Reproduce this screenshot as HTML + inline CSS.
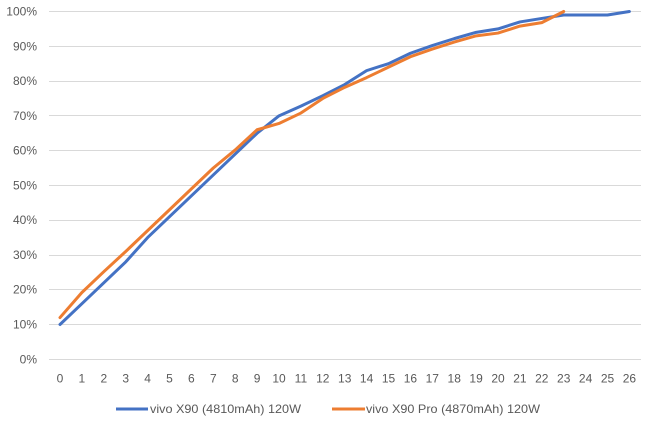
<!DOCTYPE html>
<html><head><meta charset="utf-8"><style>
html,body{margin:0;padding:0;background:#fff;}
svg{display:block;}
text{font-family:"Liberation Sans",sans-serif;font-size:12px;fill:#595959;}
</style></head><body>
<svg width="656" height="429" viewBox="0 0 656 429" xmlns="http://www.w3.org/2000/svg">
<g stroke="#d9d9d9" stroke-width="1">
<line x1="49" x2="641" y1="359.5" y2="359.5"/>
<line x1="49" x2="641" y1="324.5" y2="324.5"/>
<line x1="49" x2="641" y1="289.5" y2="289.5"/>
<line x1="49" x2="641" y1="255.5" y2="255.5"/>
<line x1="49" x2="641" y1="220.5" y2="220.5"/>
<line x1="49" x2="641" y1="185.5" y2="185.5"/>
<line x1="49" x2="641" y1="150.5" y2="150.5"/>
<line x1="49" x2="641" y1="115.5" y2="115.5"/>
<line x1="49" x2="641" y1="81.5" y2="81.5"/>
<line x1="49" x2="641" y1="46.5" y2="46.5"/>
<line x1="49" x2="641" y1="11.5" y2="11.5"/>
</g>
<g text-anchor="end">
<text x="37" y="363.5">0%</text>
<text x="37" y="328.5">10%</text>
<text x="37" y="293.5">20%</text>
<text x="37" y="259">30%</text>
<text x="37" y="224">40%</text>
<text x="37" y="189.5">50%</text>
<text x="37" y="154.5">60%</text>
<text x="37" y="120">70%</text>
<text x="37" y="85">80%</text>
<text x="37" y="50.5">90%</text>
<text x="37" y="15.5">100%</text>
</g>
<g text-anchor="middle">
<text x="60" y="382.5">0</text><text x="81.9" y="382.5">1</text><text x="103.8" y="382.5">2</text><text x="125.7" y="382.5">3</text><text x="147.6" y="382.5">4</text><text x="169.5" y="382.5">5</text><text x="191.4" y="382.5">6</text><text x="213.3" y="382.5">7</text><text x="235.2" y="382.5">8</text><text x="257.1" y="382.5">9</text><text x="279" y="382.5">10</text><text x="300.9" y="382.5">11</text><text x="322.8" y="382.5">12</text><text x="344.7" y="382.5">13</text><text x="366.6" y="382.5">14</text><text x="388.5" y="382.5">15</text><text x="410.4" y="382.5">16</text><text x="432.3" y="382.5">17</text><text x="454.2" y="382.5">18</text><text x="476.1" y="382.5">19</text><text x="498" y="382.5">20</text><text x="519.9" y="382.5">21</text><text x="541.8" y="382.5">22</text><text x="563.7" y="382.5">23</text><text x="585.6" y="382.5">24</text><text x="607.5" y="382.5">25</text><text x="629.4" y="382.5">26</text>
</g>
<g transform="translate(60,359.3) scale(21.9,-3.478)" fill="none" stroke-linejoin="round" stroke-linecap="round">
<polyline vector-effect="non-scaling-stroke" stroke="#4472C4" stroke-width="3" points="0,10 1,16 2,22 3,28 4,35 5,41 6,47 7,53 8,59 9,65 10,70 11,72.8 12,75.8 13,79 14,83 15,85 16,88 17,90.2 18,92.2 19,94 20,95 21,97 22,98 23,99 24,99 25,99 26,100"/>
<polyline vector-effect="non-scaling-stroke" stroke="#ED7D31" stroke-width="3" points="0,12 1,19.2 2,25.2 3,31 4,37 5,43 6,49 7,55 8,60.2 9,66 10,67.8 11,70.8 12,75 13,78.2 14,81 15,84 16,87 17,89.2 18,91.2 19,93 20,93.8 21,95.8 22,96.8 23,100"/>
</g>
<line x1="116" x2="148" y1="409" y2="409" stroke="#4472C4" stroke-width="3"/>
<text x="150" y="413" textLength="151" lengthAdjust="spacingAndGlyphs">vivo X90 (4810mAh) 120W</text>
<line x1="332" x2="365" y1="409" y2="409" stroke="#ED7D31" stroke-width="3"/>
<text x="366" y="413" textLength="174" lengthAdjust="spacingAndGlyphs">vivo X90 Pro (4870mAh) 120W</text>
</svg>
</body></html>
